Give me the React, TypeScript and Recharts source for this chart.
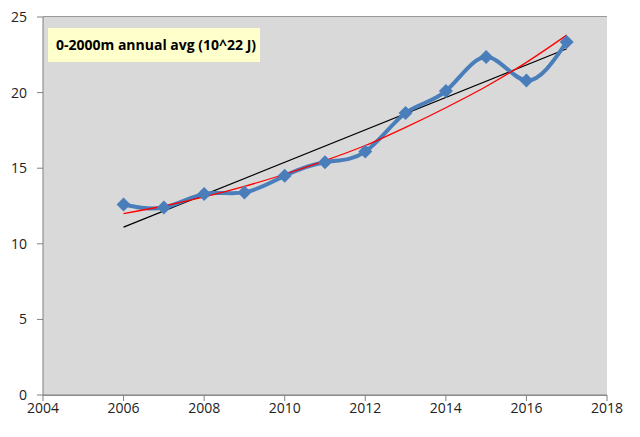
import { ComposedChart, Line, XAxis, YAxis, CartesianGrid, ReferenceArea } from 'recharts';

const years = [2006, 2007, 2008, 2009, 2010, 2011, 2012, 2013, 2014, 2015, 2016, 2017];
const heat = [12.6, 12.4, 13.3, 13.4, 14.5, 15.4, 16.1, 18.65, 20.1, 22.35, 20.8, 23.35];
const quadFit = [12.0, 12.5, 13.1, 13.8, 14.6, 15.5, 16.5, 17.7, 19.0, 20.4, 22.0, 23.8];
const linYears = [2006, 2017];
const linFit = [11.1, 22.9];
const xTicks = [2004, 2006, 2008, 2010, 2012, 2014, 2016, 2018];
const yTicks = [0, 5, 10, 15, 20, 25];

const heatData = years.map((year, i) => ({ year, heat: heat[i] }));
const quadData = years.map((year, i) => ({ year, quad: quadFit[i] }));
const linData = linYears.map((year, i) => ({ year, lin: linFit[i] }));

const Diamond = (props: any) => {
  const { cx, cy } = props;
  if (cx == null || cy == null) return null;
  const r = 7;
  return (
    <polygon
      points={`${cx},${cy - r} ${cx + r},${cy} ${cx},${cy + r} ${cx - r},${cy}`}
      fill="#4a7ebb"
    />
  );
};

export default function App() {
  return (
    <div style={{ position: 'absolute', left: 0, top: 0, width: 640, height: 437, background: '#fff', fontFamily: '"Open Sans", sans-serif' }}>
      <ComposedChart width={640} height={437} margin={{ top: 17, right: 33, bottom: 17, left: 8 }}>
        <ReferenceArea x1={2004} x2={2018} y1={0} y2={25} fill="#d9d9d9" fillOpacity={1} stroke="none" ifOverflow="hidden" />
        <CartesianGrid vertical={false} stroke="#000" strokeOpacity={0.8} />
        <XAxis
          type="number"
          dataKey="year"
          domain={[2004, 2018]}
          ticks={xTicks}
          allowDuplicatedCategory={false}
          stroke="#808080"
          tick={{ fill: '#222', fontSize: 14 }}
          tickLine={{ stroke: '#808080' }}
          height={25}
        />
        <YAxis
          type="number"
          domain={[0, 25]}
          ticks={yTicks}
          stroke="#808080"
          tick={{ fill: '#222', fontSize: 14 }}
          tickMargin={10}
          width={35}
        />
        <Line data={linData} dataKey="lin" stroke="#000" strokeWidth={1.3} dot={false} isAnimationActive={false} />
        <Line data={heatData} dataKey="heat" type="natural" stroke="#4a7ebb" strokeWidth={4} dot={<Diamond />} activeDot={false} isAnimationActive={false} />
        <Line data={quadData} dataKey="quad" type="monotone" stroke="#ff0000" strokeWidth={1.3} dot={false} isAnimationActive={false} />
      </ComposedChart>
      <div style={{ position: 'absolute', left: 48, top: 28, width: 212, height: 34, background: '#ffffcc', fontWeight: 'bold', fontSize: 14, lineHeight: '34px', paddingLeft: 8, boxSizing: 'border-box', color: '#000' }}>
        0-2000m annual avg (10^22 J)
      </div>
    </div>
  );
}
